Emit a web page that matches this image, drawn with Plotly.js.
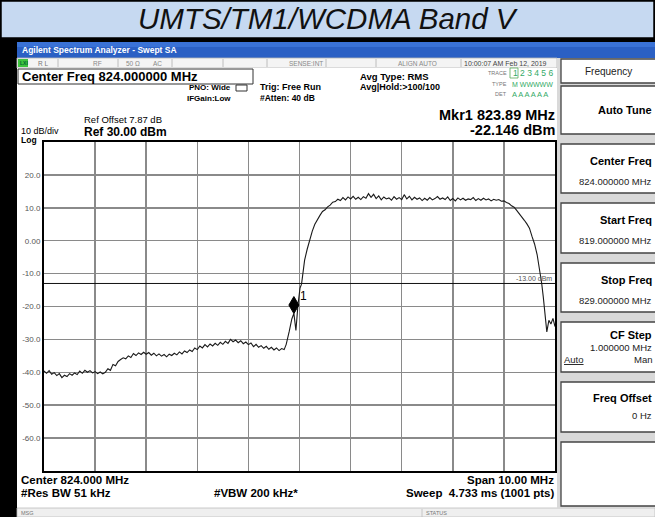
<!DOCTYPE html>
<html>
<head>
<meta charset="utf-8">
<script src="https://cdn.plot.ly/plotly-3.0.1.min.js"></script>
<style>html,body{margin:0;padding:0;background:#000;}#chart{width:655px;height:517px;}</style>
</head>
<body>
<div id="chart"></div>
<script>
// ---------------- DATA ----------------
const chartTitle = "UMTS/TM1/WCDMA Band V";
const freqMHz = [
 819.00,819.05,819.10,819.15,819.20,819.25,819.30,819.35,819.40,819.45,
 819.50,819.55,819.60,819.65,819.70,819.75,819.80,819.85,819.90,819.95,
 820.00,820.05,820.10,820.15,820.20,820.25,820.30,820.35,820.40,820.45,
 820.50,820.55,820.60,820.65,820.70,820.75,820.80,820.85,820.90,820.95,
 821.00,821.05,821.10,821.15,821.20,821.25,821.30,821.35,821.40,821.45,
 821.50,821.55,821.60,821.65,821.70,821.75,821.80,821.85,821.90,821.95,
 822.00,822.05,822.10,822.15,822.20,822.25,822.30,822.35,822.40,822.45,
 822.50,822.55,822.60,822.65,822.70,822.75,822.80,822.85,822.90,822.95,
 823.00,823.05,823.10,823.15,823.20,823.25,823.30,823.35,823.40,823.45,
 823.50,823.55,823.60,823.65,823.70,
 823.74,823.80,823.85,823.89,823.93,823.97,824.01,824.04,824.07,
 824.10,824.15,824.20,824.25,824.30,824.35,824.40,824.45,824.50,824.55,
 824.60,824.65,824.70,824.75,
 824.80,824.85,824.90,824.95,
 825.00,825.05,825.10,825.15,825.20,825.25,825.30,825.35,825.40,825.45,
 825.50,825.55,825.60,825.65,825.70,825.75,825.80,825.85,825.90,825.95,
 826.00,826.05,826.10,826.15,826.20,826.25,826.30,826.35,826.40,826.45,
 826.50,826.55,826.60,826.65,826.70,826.75,826.80,826.85,826.90,826.95,
 827.00,827.05,827.10,827.15,827.20,827.25,827.30,827.35,827.40,827.45,
 827.50,827.55,827.60,827.65,827.70,827.75,827.80,827.85,827.90,827.95,
 828.00,828.05,828.10,828.15,828.20,828.25,828.30,828.35,828.40,828.45,
 828.50,828.55,828.60,828.65,828.70,
 828.74,828.77,828.80,828.84,828.88,828.92,828.96,829.00
];
const levelDbm = [
 -39.6,-40.3,-39.5,-40.6,-40.1,-41.0,-40.4,-41.6,-40.9,-41.3,
 -40.4,-40.9,-40.2,-40.7,-39.6,-40.3,-39.4,-40.0,-39.5,-40.2,
 -39.8,-40.4,-39.9,-40.5,-40.0,-38.9,-39.4,-37.6,-38.0,-36.7,
 -36.1,-35.6,-35.9,-35.0,-35.5,-34.3,-34.9,-34.1,-34.6,-33.9,
 -34.5,-34.0,-34.8,-34.2,-35.0,-34.4,-35.1,-34.6,-35.3,-34.5,
 -34.9,-34.2,-34.7,-33.8,-34.4,-33.5,-34.0,-33.2,-33.7,-32.6,
 -33.1,-32.0,-32.6,-31.6,-32.3,-31.4,-32.0,-31.2,-31.8,-30.9,
 -31.5,-30.6,-31.2,-30.0,-30.7,-30.2,-31.0,-30.4,-31.3,-30.8,
 -31.6,-31.1,-32.2,-31.5,-32.4,-31.9,-32.7,-32.1,-33.0,-32.4,
 -33.2,-32.6,-33.4,-32.8,-33.1,
 -31.5,-27.5,-23.8,-22.1,-27.3,-19.5,-14.4,-13.2,-9.8,
 -5.9,-2.6,0.6,2.9,5.0,6.6,7.7,8.9,9.4,10.3,
 10.8,11.7,11.9,12.6,
 12.2,13.1,12.4,13.3,
 12.7,13.5,12.6,13.2,12.5,13.4,12.9,14.3,13.2,14.1,
 12.8,13.6,12.4,13.3,12.7,13.0,12.3,13.4,12.6,13.1,
 12.5,14.0,12.7,13.5,12.4,13.2,12.6,13.0,12.2,12.9,
 12.3,13.1,12.4,12.8,13.4,12.6,13.0,12.5,13.3,12.2,
 12.8,12.1,13.0,12.4,12.9,12.3,12.7,12.5,13.1,12.2,
 12.8,12.3,12.9,12.4,12.7,12.1,12.6,12.3,12.5,12.0,
 12.1,11.6,11.3,10.6,10.2,9.2,8.3,7.4,6.2,5.1,
 3.8,1.3,-1.0,-4.2,-8.6,
 -13.0,-17.0,-22.0,-27.7,-24.2,-25.3,-23.6,-26.1
];
const markerFreq = [823.89];
const markerLevel = [-22.146];
const limitLevel = [-13.0];
const freqRange = [819, 829];
const levelRange = [-70, 30];
const yTickVals = [20, 10, 0, -10, -20, -30, -40, -50, -60];
const yTickText = ["20.0", "10.0", "0.00", "-10.0", "-20.0", "-30.0", "-40.0", "-50.0", "-60.0"];
const softKeys = [
  ["Center Freq", "824.000000 MHz"],
  ["Start Freq", "819.000000 MHz"],
  ["Stop Freq", "829.000000 MHz"]
];

// ---------------- LAYOUT HELPERS ----------------
const W = 655, H = 517, ML = 44, MR = 100, MT = 142, MB = 46;
const PW = W - ML - MR, PH = H - MT - MB;
const X = px => (px - ML) / PW;
const Y = py => (H - MB - py) / PH;
const FONT = "Arial, 'Liberation Sans', sans-serif";
const shapes = [];
const ann = [];
function rect(x0, y0, x1, y1, fill, lc, lw, layer) {
  shapes.push({type: 'rect', xref: 'paper', yref: 'paper', x0: X(x0), x1: X(x1), y0: Y(y1), y1: Y(y0),
    fillcolor: fill, line: {color: lc || fill, width: lw || 0}, layer: layer || 'below'});
}
function seg(x0, y0, x1, y1, c, w, layer) {
  shapes.push({type: 'line', xref: 'paper', yref: 'paper', x0: X(x0), x1: X(x1), y0: Y(y0), y1: Y(y1),
    line: {color: c, width: w}, layer: layer || 'below'});
}
function txt(x, y, t, size, o) {
  o = o || {};
  ann.push({xref: 'paper', yref: 'paper', x: X(x), y: Y(y), text: t, showarrow: false,
    xanchor: o.anchor || 'left', yanchor: 'middle', borderpad: 0,
    font: {family: o.family || FONT, size: size, color: o.color || '#000'}});
}

// title bar
rect(1, 1, 654, 38, '#c6d9f1', '#000', 1.5);
txt(328, 19, '<i>' + chartTitle + '</i>', 29.5, {anchor: 'center', color: '#111'});
// window title bar
rect(17, 42, 655, 58, '#2b60c4');
rect(17, 42, 655, 47, '#3a72d6');
txt(21, 50, '<b>Agilent Spectrum Analyzer - Swept SA</b>', 8.5, {color: '#fff'});
// status row
rect(17, 58, 557, 68, '#f4f4f4', '#b5b5b5', 0.8);
[58, 118, 172, 223, 267, 326, 376, 461].forEach(x => seg(x, 59, x, 67, '#b0b0b0', 0.8));
rect(18, 59, 28, 67, '#3fc43f');
txt(19, 63, '<b>LXI</b>', 5, {color: '#063'});
txt(37, 63, 'R L', 6.5, {color: '#777'});
txt(92, 63, 'RF', 6.5, {color: '#888'});
txt(125, 63, '50 Ω', 6.5, {color: '#888'});
txt(152, 63, 'AC', 6.5, {color: '#888'});
txt(324, 63, 'SENSE:INT', 6.5, {color: '#888', anchor: 'right'});
txt(438, 63, 'ALIGN AUTO', 6.5, {color: '#888', anchor: 'right'});
txt(463, 63, '10:00:07 AM Feb 12, 2019', 7, {color: '#444'});
// main area
rect(17, 68, 557, 508, '#ffffff');
rect(18, 69, 253, 84, '#ffffff', '#333', 1);
txt(21, 77, '<b>Center Freq 824.000000 MHz</b>', 13);
txt(232, 88, '<b>PNO: Wide</b>', 8, {anchor: 'right'});
txt(232, 99, '<b>IFGain:Low</b>', 8, {anchor: 'right'});
shapes.push({type: 'path', xref: 'paper', yref: 'paper',
  path: 'M' + X(236) + ',' + Y(85) + ' L' + X(247) + ',' + Y(85) + ' L' + X(247) + ',' + Y(91) + ' L' + X(236) + ',' + Y(91) + ' Z',
  line: {color: '#333', width: 1}, layer: 'below'});
txt(259, 87, '<b>Trig: Free Run</b>', 9);
txt(259, 98, '<b>#Atten: 40 dB</b>', 8.5);
txt(359, 76, '<b>Avg Type: RMS</b>', 9.5);
txt(359, 87, '<b>Avg|Hold:&gt;100/100</b>', 9);
txt(508, 73, 'TRACE', 5.5, {color: '#777', anchor: 'right'});
txt(508, 84, 'TYPE', 5.5, {color: '#777', anchor: 'right'});
txt(508, 94, 'DET', 5.5, {color: '#777', anchor: 'right'});
rect(510, 68, 518, 78, '#ffffff', '#5a5', 0.8);
txt(512, 73, '1 2 3 4 5 6', 8.5, {color: '#3a6'});
txt(511, 84, 'M WWWWW', 7, {color: '#3a6'});
txt(511, 94, 'A A A A A A', 7.5, {color: '#3a6'});
txt(556, 115, '<b>Mkr1 823.89 MHz</b>', 14.5, {anchor: 'right'});
txt(556, 130, '<b>-22.146 dBm</b>', 14.5, {anchor: 'right'});
txt(83, 120, 'Ref Offset 7.87 dB', 9.5);
txt(20, 131, '10 dB/div', 9);
txt(83, 132, '<b>Ref 30.00 dBm</b>', 12);
txt(20, 140, '<b>Log</b>', 8.5);
txt(20, 480, '<b>Center 824.000 MHz</b>', 11.5);
txt(555, 480, '<b>Span 10.00 MHz</b>', 11.5, {anchor: 'right'});
txt(20, 493, '<b>#Res BW 51 kHz</b>', 11.5);
txt(213, 493, '<b>#VBW 200 kHz*</b>', 11.5);
txt(555, 493, '<b>Sweep  4.733 ms (1001 pts)</b>', 11.5, {anchor: 'right'});
// msg bar
rect(17, 508, 655, 517, '#efefef', '#bdbdbd', 0.8);
seg(422, 509, 422, 517, '#bdbdbd', 0.8);
txt(20, 513, 'MSG', 5.5, {color: '#777'});
txt(425, 513, 'STATUS', 5.5, {color: '#777'});
// right panel
rect(557, 58, 655, 508, '#d9d9d9');
const boxes = [[59, 83], [86, 134], [144, 193], [203, 253], [263, 312], [322, 372], [382, 432], [442, 506]];
boxes.forEach(b => rect(561, b[0], 657, b[1], '#ffffff', '#444', 1.3));
txt(608, 71, 'Frequency', 10, {anchor: 'center', color: '#222'});
txt(653, 110, '<b>Auto Tune</b>', 11, {anchor: 'right'});
softKeys.forEach((k, i) => {
  const b = boxes[2 + i];
  txt(653, b[0] + 17, '<b>' + k[0] + '</b>', 11, {anchor: 'right'});
  txt(653, b[0] + 37, k[1], 9.5, {anchor: 'right', color: '#222'});
});
txt(653, 335, '<b>CF Step</b>', 11, {anchor: 'right'});
txt(653, 347, '1.000000 MHz', 9.5, {anchor: 'right', color: '#222'});
txt(563, 359, '<u>Auto</u>', 9.5, {color: '#222'});
txt(653, 359, 'Man', 9.5, {anchor: 'right', color: '#222'});
txt(653, 398, '<b>Freq Offset</b>', 11, {anchor: 'right'});
txt(653, 415, '0 Hz', 9.5, {anchor: 'right', color: '#222'});

// -13 dBm limit line and label
shapes.push({type: 'line', xref: 'paper', yref: 'y', x0: 0, x1: 1, y0: limitLevel[0], y1: limitLevel[0],
  line: {color: '#111', width: 1}, layer: 'above'});
ann.push({xref: 'paper', yref: 'y', x: X(553), y: limitLevel[0], text: limitLevel[0].toFixed(2) + ' dBm',
  showarrow: false, xanchor: 'right', yanchor: 'bottom', yshift: 0, borderpad: 0,
  font: {family: FONT, size: 7, color: '#555'}});
// marker diamond (tip at the marker point) and label
shapes.push({type: 'path', xref: 'x', yref: 'y', xsizemode: 'pixel', ysizemode: 'pixel',
  xanchor: markerFreq[0], yanchor: markerLevel[0],
  path: 'M0,0 L-5,8.5 L0,17 L5,8.5 Z', fillcolor: '#000', line: {color: '#000', width: 1}, layer: 'above'});
ann.push({xref: 'x', yref: 'y', x: markerFreq[0], y: markerLevel[0], text: '1', showarrow: false,
  xshift: 10, yshift: 18, borderpad: 0, font: {family: FONT, size: 12, color: '#000'}});

const trace = {x: freqMHz, y: levelDbm, type: 'scatter', mode: 'lines',
  line: {color: '#1a1a1a', width: 1.1}, hoverinfo: 'skip'};

const layout = {
  width: W, height: H, autosize: false,
  margin: {l: ML, r: MR, t: MT, b: MB, pad: 0},
  paper_bgcolor: '#000', plot_bgcolor: '#fff',
  showlegend: false,
  xaxis: {range: freqRange, tick0: 819, dtick: 1, showgrid: true, gridcolor: '#8a8a8a', gridwidth: 1.5,
    showticklabels: false, ticks: '', zeroline: false, showline: true, mirror: true, linecolor: '#000', linewidth: 2,
    fixedrange: true},
  yaxis: {range: levelRange, tickvals: yTickVals, ticktext: yTickText, showgrid: true, gridcolor: '#8a8a8a', gridwidth: 1.5,
    ticks: '', zeroline: false, showline: true, mirror: true, linecolor: '#000', linewidth: 2,
    tickfont: {family: FONT, size: 8, color: '#555'}, fixedrange: true},
  shapes: shapes,
  annotations: ann
};
Plotly.newPlot('chart', [trace], layout, {displayModeBar: false, staticPlot: true});
</script>
</body>
</html>
